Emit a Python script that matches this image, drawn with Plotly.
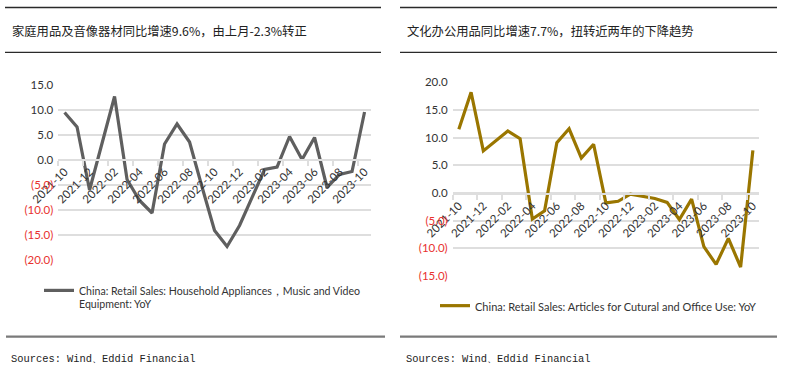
import plotly.graph_objects as go

# ---------------- data ----------------
months = ['2021-10', '2021-11', '2021-12', '2022-01', '2022-02', '2022-03', '2022-04',
          '2022-05', '2022-06', '2022-07', '2022-08', '2022-09', '2022-10', '2022-11',
          '2022-12', '2023-01', '2023-02', '2023-03', '2023-04', '2023-05', '2023-06',
          '2023-07', '2023-08', '2023-09', '2023-10']

household_yoy = [9.5, 6.6, -6.0, None, 12.7, -3.9, -8.1, -10.6, 3.2, 7.2, 3.6, -5.4,
                 -14.1, -17.3, -13.1, None, -1.9, -1.4, 4.7, 0.1, 4.5, -5.5, -2.9, -2.3, 9.6]

office_yoy = [11.5, 18.2, 7.6, None, 11.2, 9.8, -4.7, -3.2, 9.1, 11.6, 6.3, 8.8,
              -1.8, -1.5, -0.2, None, -1.0, -1.7, -4.8, -1.1, -9.7, -12.9, -8.2, -13.4, 7.7]

left_yticks = [-20, -15, -10, -5, 0, 5, 10, 15]
right_yticks = [-15, -10, -5, 0, 5, 10, 15, 20]

title_left = '家庭用品及音像器材同比增速9.6%，由上月-2.3%转正'
title_right = '文化办公用品同比增速7.7%，扭转近两年的下降趋势'
name_left = 'China: Retail Sales: Household Appliances，Music and Video<br>Equipment: YoY'
name_right = 'China: Retail Sales: Articles for Cutural and Office Use: YoY'
source_text = 'Sources: Wind、Eddid Financial'

# ---------------- helpers ----------------
W, H = 786, 371


def px(x):
    return x / W


def py(y):
    return 1 - y / H


def fmt(v):
    if v < 0:
        return '<span style="color:#e8322f">(%.1f)</span>' % abs(v)
    return '%.1f' % v


x_idx = list(range(len(months)))
tickvals = x_idx[::2]
ticktext = months[::2]

NUM_FONT = 'Lato, "Open Sans", Arial, sans-serif'
CJK_FONT = '"Noto Sans CJK SC", "Noto Sans", sans-serif'
TXT = '#333333'
GRID = '#dedede'

fig = go.Figure()
fig.add_trace(go.Scatter(x=x_idx, y=household_yoy, mode='lines', connectgaps=True,
                         name=name_left, line=dict(color='#5f5f5f', width=3.2),
                         xaxis='x', yaxis='y', legend='legend'))
fig.add_trace(go.Scatter(x=x_idx, y=office_yoy, mode='lines', connectgaps=True,
                         name=name_right, line=dict(color='#9a7600', width=3.2),
                         xaxis='x2', yaxis='y2', legend='legend2'))


def xaxis_cfg(domain, zero_pos):
    return dict(domain=domain, range=[-0.5, 24.5], anchor='free', position=zero_pos,
                tickmode='array', tickvals=tickvals, ticktext=ticktext, tickangle=-45,
                ticks='', showgrid=False, zeroline=False, showline=True, automargin=False,
                linecolor=GRID, linewidth=1.5,
                tickfont=dict(family=NUM_FONT, size=11.5, color=TXT),
                minor=dict(tickmode='linear', tick0=-0.5, dtick=2, ticks='outside',
                           ticklen=5, tickcolor=GRID, tickwidth=1.5, showgrid=False))


def yaxis_cfg(domain, rng, vals, xanchor):
    return dict(domain=domain, range=rng, anchor=xanchor, tickmode='array', tickvals=vals,
                ticktext=[fmt(v) for v in vals], showgrid=True, gridcolor=GRID,
                gridwidth=1.5, zeroline=False, showline=False, ticks='', automargin=False,
                ticklabelstandoff=4,
                tickfont=dict(family=NUM_FONT, size=11.5, color=TXT))


fig.update_layout(
    width=W, height=H, margin=dict(l=0, r=0, t=0, b=0, pad=0, autoexpand=False),
    paper_bgcolor='white', plot_bgcolor='white',
    xaxis=xaxis_cfg([px(58.3), px(370.8)], py(160)),
    yaxis=yaxis_cfg([py(260), py(85)], [-20, 15], left_yticks, 'x'),
    xaxis2=xaxis_cfg([px(452.7), px(759)], py(194)),
    yaxis2=yaxis_cfg([py(276), py(82.3)], [-15, 20], right_yticks, 'x2'),
    legend=dict(x=px(39), y=py(277), xanchor='left', yanchor='top', valign='top',
                font=dict(family=NUM_FONT, size=10.6, color=TXT), bgcolor='rgba(0,0,0,0)',
                itemwidth=30),
    legend2=dict(x=px(435), y=py(292), xanchor='left', yanchor='top', valign='top',
                 font=dict(family=NUM_FONT, size=11, color=TXT), bgcolor='rgba(0,0,0,0)',
                 itemwidth=30),
    showlegend=True,
)

# rules
shapes = []
for (x0, x1) in [(5, 381), (400, 777)]:
    shapes.append(dict(type='line', xref='paper', yref='paper', x0=px(x0), x1=px(x1),
                       y0=py(7.5), y1=py(7.5), line=dict(color='#2a2a2a', width=1.3)))
    shapes.append(dict(type='line', xref='paper', yref='paper', x0=px(x0), x1=px(x1),
                       y0=py(52.3), y1=py(52.3), line=dict(color='#2a2a2a', width=1.3)))
for (x0, x1) in [(6, 385), (400, 777)]:
    shapes.append(dict(type='line', xref='paper', yref='paper', x0=px(x0), x1=px(x1),
                       y0=py(336.7), y1=py(336.7), line=dict(color='#7a7a7a', width=2.2)))
fig.update_layout(shapes=shapes)

SRC_FONT = dict(family='"Liberation Mono", "DejaVu Sans Mono", monospace', size=10.4, color='#222')
annotations = [
    dict(text=title_left, x=px(10), y=py(31.5), xref='paper', yref='paper', xanchor='left',
         yanchor='middle', showarrow=False, font=dict(family=CJK_FONT, size=12.3, color='#222')),
    dict(text=title_right, x=px(405), y=py(31.5), xref='paper', yref='paper', xanchor='left',
         yanchor='middle', showarrow=False, font=dict(family=CJK_FONT, size=12.3, color='#222')),
    dict(text=source_text, x=px(9), y=py(358.5), xref='paper', yref='paper', xanchor='left',
         yanchor='middle', showarrow=False, font=SRC_FONT),
    dict(text=source_text, x=px(404), y=py(358.5), xref='paper', yref='paper', xanchor='left',
         yanchor='middle', showarrow=False, font=SRC_FONT),
]
fig.update_layout(annotations=annotations)

fig.write_html('out.html', config={'displayModeBar': False},
               post_script="document.body.style.margin='0';document.body.style.padding='0';")
